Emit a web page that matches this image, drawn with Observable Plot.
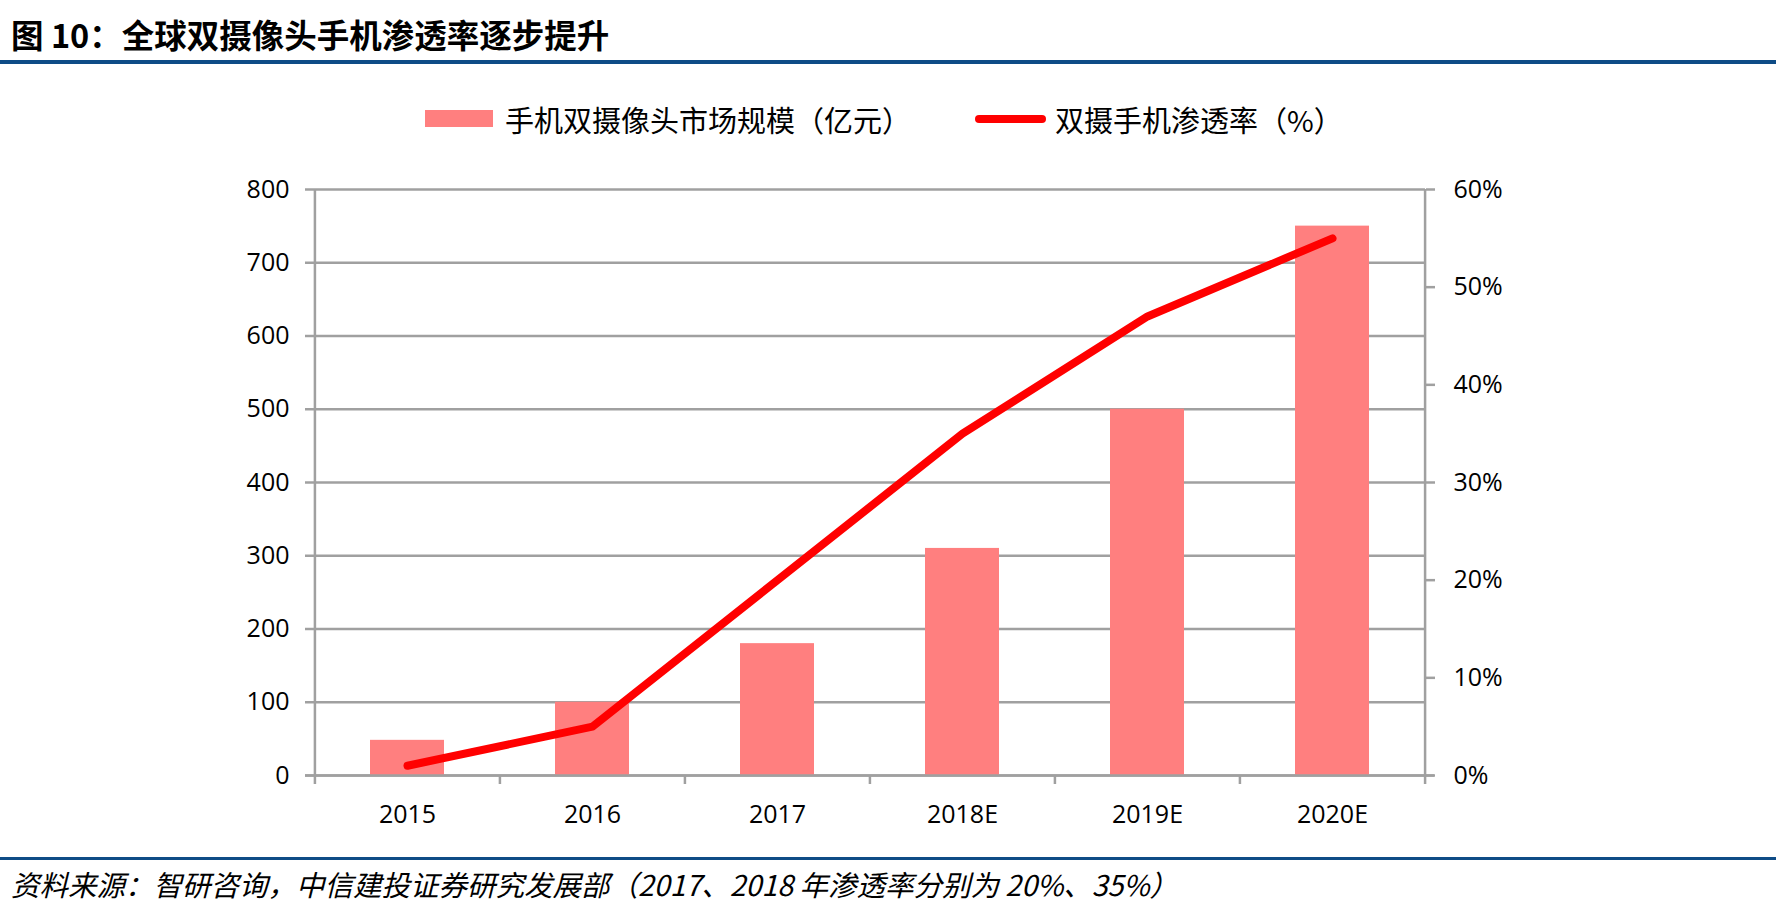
<!DOCTYPE html>
<html>
<head>
<meta charset="utf-8">
<script src="https://cdn.jsdelivr.net/npm/d3@7"></script>
<script src="https://cdn.jsdelivr.net/npm/@observablehq/plot@0.6"></script>
<style>
  html, body { margin: 0; padding: 0; background: #fff; }
  body { position: relative; width: 1776px; height: 902px; overflow: hidden; font-family: "Open Sans", "Noto Sans CJK SC", sans-serif; color: #000; }
  .abs { position: absolute; white-space: nowrap; }
  #title { left: 11px; top: 14px; height: 40px; line-height: 40px; font-size: 32.5px; font-weight: 700; font-family: "Noto Sans CJK SC", sans-serif; }
  .rule { left: 0; width: 1776px; background: #0e4c86; }
  .legtext { font-size: 29px; font-family: "Noto Sans CJK SC", sans-serif; height: 40px; line-height: 40px; top: 99px; }
  #footer { left: 11px; top: 869px; height: 30px; line-height: 30px; font-size: 28.5px; font-style: italic; font-family: "Noto Sans CJK SC", sans-serif; }
  #chart { left: 0; top: 150px; }
</style>
</head>
<body>
<div id="title" class="abs">图 10：全球双摄像头手机渗透率逐步提升</div>
<div class="abs rule" style="top:60px;height:4px;"></div>

<div class="abs" style="left:425px;top:110px;width:68px;height:17px;background:#ff7f7f;"></div>
<div id="leg1" class="abs legtext" style="left:505px;"></div>
<div class="abs" style="left:975px;top:115px;width:71px;height:8px;border-radius:4px;background:#ff0000;"></div>
<div id="leg2" class="abs legtext" style="left:1055px;"></div>

<div id="chart" class="abs"></div>

<div class="abs rule" style="top:857px;height:3px;"></div>
<div id="footer" class="abs"></div>

<script>
const categories = ["2015", "2016", "2017", "2018E", "2019E", "2020E"];
const marketSize = [48, 100, 180, 310, 500, 750];          // 亿元
const penetration = [1, 5, 20, 35, 47, 55];                 // %
const leftTicks = [0, 100, 200, 300, 400, 500, 600, 700, 800];
const rightTicks = [0, 10, 20, 30, 40, 50, 60];
const seriesNames = ["手机双摄像头市场规模（亿元）", "双摄手机渗透率（%）"];
const sourceNote = "资料来源：智研咨询，中信建投证券研究发展部（2017、2018 年渗透率分别为 20%、35%）";

document.getElementById("leg1").textContent = seriesNames[0];
document.getElementById("leg2").textContent = seriesNames[1];
document.getElementById("footer").textContent = sourceNote;

const leftMax = 800, rightMax = 60;
const toLeft = v => v * leftMax / rightMax;

const data = categories.map((c, i) => ({cat: c, size: marketSize[i], rate: penetration[i]}));

const W = 1776, H = 700, ML = 314, MR = 351, MT = 39, MB = 75;
const step = (W - ML - MR) / categories.length;
const gray = "#a0a0a0";

const chart = Plot.plot({
  width: W,
  height: H,
  marginLeft: ML,
  marginRight: MR,
  marginTop: MT,
  marginBottom: MB,
  style: {fontFamily: "Open Sans, Noto Sans CJK SC, sans-serif", fontSize: "25px", color: "#000", background: "transparent"},
  x: {domain: categories, paddingInner: 0.6, paddingOuter: 0.3, label: null},
  y: {domain: [0, leftMax], label: null},
  marks: [
    Plot.gridY(leftTicks, {stroke: gray, strokeOpacity: 1, strokeWidth: 2.5}),
    Plot.barY(data, {x: "cat", y: "size", fill: "#ff7f7f"}),
    Plot.ruleX([categories[0]], {dx: -step / 2, stroke: gray, strokeWidth: 2.5, insetBottom: -9}),
    Plot.ruleX([categories[categories.length - 1]], {dx: step / 2, stroke: gray, strokeWidth: 2.5, insetBottom: -9}),
    Plot.ruleX(categories.slice(1), {y1: 0, y2: 0, dx: -step / 2, stroke: gray, strokeWidth: 2.5, insetBottom: -9}),
    Plot.ruleY([0], {stroke: gray, strokeWidth: 2.5, insetLeft: -9, insetRight: -9}),
    Plot.lineY(data, {x: "cat", y: d => toLeft(d.rate), stroke: "#ff0000", strokeWidth: 8, strokeLinecap: "round", strokeLinejoin: "round"}),
    Plot.axisY(leftTicks, {anchor: "left", tickSize: 9, tickPadding: 16, stroke: gray, strokeWidth: 2.5, fill: "#000", label: null}),
    Plot.axisY(rightTicks.map(toLeft), {anchor: "right", tickSize: 9, tickPadding: 19, stroke: gray, strokeWidth: 2.5, fill: "#000", label: null, tickFormat: v => Math.round(v * rightMax / leftMax) + "%"}),
    Plot.axisX({tickSize: 0, tickPadding: 30, fill: "#000", label: null})
  ]
});
document.getElementById("chart").appendChild(chart);
</script>
</body>
</html>
